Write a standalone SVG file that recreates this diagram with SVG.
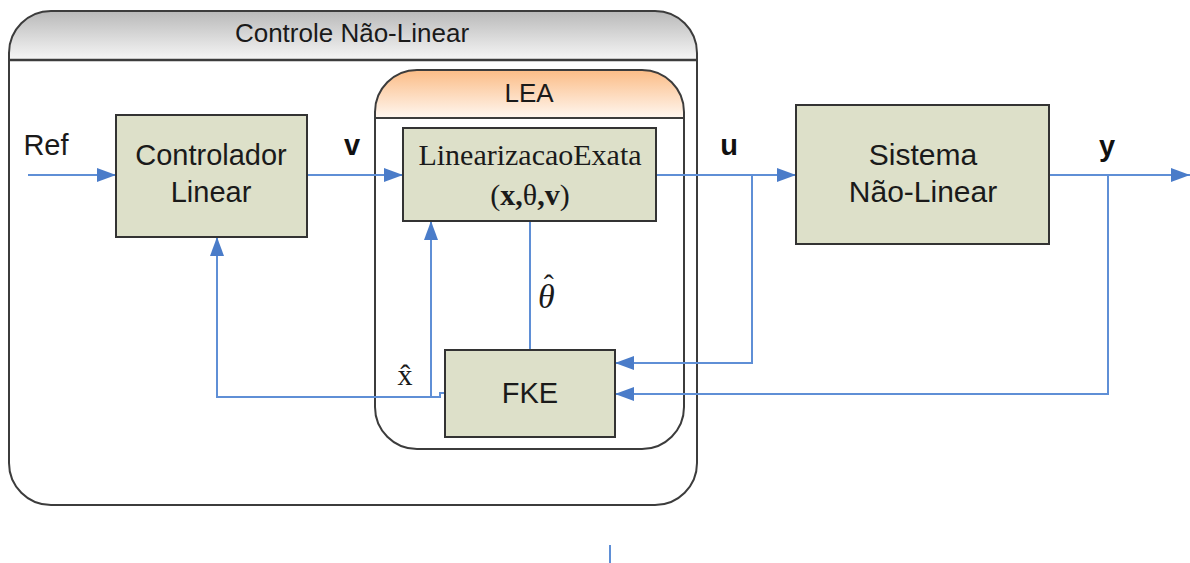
<svg xmlns="http://www.w3.org/2000/svg" width="1190" height="563" viewBox="0 0 1190 563">
  <style>
    .sans { font-family: "Liberation Sans", Arial, sans-serif; fill: #1a1a1a; }
    .serif { font-family: "Liberation Serif", "Times New Roman", serif; fill: #1a1a1a; }
    .box { fill: #dde0c9; stroke: #333333; stroke-width: 2; }
    .frame { fill: none; stroke: #3c3c3c; stroke-width: 2; }
    .wire { fill: none; stroke: #5f8fd6; stroke-width: 2; }
    .lbl { font-family: "Liberation Sans", Arial, sans-serif; font-weight: bold; font-size: 29px; fill: #111; text-anchor: middle; }
  </style>
  <defs>
    <linearGradient id="gGray" x1="0" y1="0" x2="0" y2="1">
      <stop offset="0" stop-color="#b9b9b9"/>
      <stop offset="1" stop-color="#f6f6f6"/>
    </linearGradient>
    <linearGradient id="gOrange" x1="0" y1="0" x2="0" y2="1">
      <stop offset="0" stop-color="#fbbc86"/>
      <stop offset="1" stop-color="#fff7f0"/>
    </linearGradient>
    <marker id="arr" markerUnits="userSpaceOnUse" markerWidth="20" markerHeight="14" refX="19" refY="7" orient="auto">
      <path d="M0,0 L19,7 L0,14 Z" fill="#4a7cc9"/>
    </marker>
  </defs>

  <g id="controle-nao-linear">
    <path d="M9,60 V53 A42,42 0 0 1 51,11 H655 A42,42 0 0 1 697,53 V60 Z" fill="url(#gGray)"/>
    <rect class="frame" x="9" y="11" width="688" height="494" rx="42" ry="42"/>
    <line x1="9" y1="60" x2="697" y2="60" stroke="#3c3c3c" stroke-width="2.5"/>
    <text class="sans" x="352" y="42" font-size="26" text-anchor="middle">Controle Não-Linear</text>
  </g>

  <g id="lea">
    <path d="M375,118 V112 A42,42 0 0 1 417,70 H642 A42,42 0 0 1 684,112 V118 Z" fill="url(#gOrange)"/>
    <rect class="frame" x="375" y="70" width="309" height="379" rx="42" ry="42"/>
    <line x1="375" y1="118" x2="684" y2="118" stroke="#3c3c3c" stroke-width="2"/>
    <text class="sans" x="529" y="102" font-size="26" text-anchor="middle">LEA</text>
  </g>

  <g id="connectors">
    <line class="wire" x1="28" y1="175" x2="116" y2="175" marker-end="url(#arr)"/>
    <line class="wire" x1="307" y1="175" x2="403" y2="175" marker-end="url(#arr)"/>
    <line class="wire" x1="656" y1="175" x2="796" y2="175" marker-end="url(#arr)"/>
    <line class="wire" x1="1049" y1="175" x2="1190" y2="175" marker-end="url(#arr)"/>
    <polyline class="wire" points="752,175 752,363 615,363" marker-end="url(#arr)"/>
    <polyline class="wire" points="1108,175 1108,394 615,394" marker-end="url(#arr)"/>
    <line class="wire" x1="530" y1="221" x2="530" y2="350"/>
    <polyline class="wire" points="445,393 440,393 440,397 217,397 217,237" marker-end="url(#arr)"/>
    <polyline class="wire" points="431,397 431,221" marker-end="url(#arr)"/>
    <line class="wire" x1="610" y1="545" x2="610" y2="563"/>
  </g>

  <g id="controlador-linear">
    <rect class="box" x="116" y="115" width="191" height="122"/>
    <text class="sans" x="211" y="165" font-size="29" text-anchor="middle">Controlador</text>
    <text class="sans" x="211" y="202" font-size="29" text-anchor="middle">Linear</text>
  </g>

  <g id="linearizacao-exata">
    <rect class="box" x="403" y="128" width="253" height="93"/>
    <text class="serif" x="530" y="165" font-size="30" text-anchor="middle">LinearizacaoExata</text>
    <text class="serif" x="530" y="205" font-size="30" text-anchor="middle">(<tspan font-weight="bold">x,</tspan>θ<tspan font-weight="bold">,v</tspan>)</text>
  </g>

  <g id="sistema-nao-linear">
    <rect class="box" x="796" y="105" width="253" height="139"/>
    <text class="sans" x="923" y="165" font-size="30" text-anchor="middle">Sistema</text>
    <text class="sans" x="923" y="202" font-size="30" text-anchor="middle">Não-Linear</text>
  </g>

  <g id="fke">
    <rect class="box" x="445" y="350" width="170" height="87"/>
    <text class="sans" x="530" y="403" font-size="29" text-anchor="middle">FKE</text>
  </g>

  <g id="labels">
    <text class="sans" x="46" y="155" font-size="29" text-anchor="middle">Ref</text>
    <text class="lbl" x="352" y="155">v</text>
    <text class="lbl" x="729" y="155">u</text>
    <text class="lbl" x="1107" y="156">y</text>
    <text class="serif" x="538" y="308" font-size="34" font-style="italic">θ<tspan dx="-11" dy="-13" font-size="30" font-style="normal">ˆ</tspan></text>
    <text class="serif" x="405" y="385" font-size="30" text-anchor="middle">x̂</text>
  </g>
</svg>
